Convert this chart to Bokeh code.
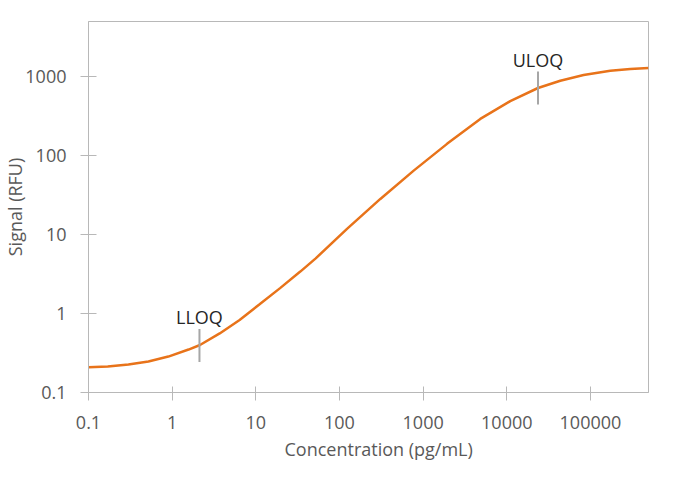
import numpy as np
from bokeh.plotting import figure
from bokeh.models import FixedTicker, ColumnDataSource, LabelSet, Title
from bokeh.core.properties import value
from bokeh.embed import file_html
from bokeh.resources import INLINE

# standard curve
conc = [0.1, 0.17, 0.3, 0.52, 0.9, 1.57, 2.15, 3.7, 6.4, 11, 19.5, 34, 52,
        123, 308, 771, 1930, 4820, 11000, 23600, 43600, 82800, 172600,
        299000, 494000]
signal = [0.209, 0.213, 0.226, 0.247, 0.285, 0.35, 0.40, 0.56, 0.83, 1.3,
          2.1, 3.4, 5.0, 11.8, 28.3, 64.6, 141, 292, 490, 719, 889, 1051,
          1192, 1251, 1288]

# limits of quantification
loq_names = ["LLOQ", "ULOQ"]
loq_conc = [2.12, 23600]
loq_signal = [0.395, 719]

x_ticks = [0.1, 1, 10, 100, 1000, 10000, 100000]
x_tick_labels = ["0.1", "1", "10", "100", "1000", "10000", "100000"]
y_ticks = [0.1, 1, 10, 100, 1000]
y_tick_labels = ["0.1", "1", "10", "100", "1000"]

FONT = "Open Sans"
GREY = "#B8B8B8"
TXT = "#595959"

p = figure(
    frame_width=560, frame_height=371,
    x_axis_type="log", y_axis_type="log",
    x_range=(0.1, 494000), y_range=(0.1, 5000),
    y_axis_label="Signal (RFU)",
    output_backend="svg", toolbar_location=None,
    min_border_left=88, min_border_top=21, min_border_right=30, min_border_bottom=75,
)

p.xgrid.visible = False
p.ygrid.visible = False
p.outline_line_color = GREY
p.outline_line_width = 1

p.xaxis.ticker = FixedTicker(ticks=x_ticks)
p.yaxis.ticker = FixedTicker(ticks=y_ticks)
p.xaxis.major_label_overrides = dict(zip(x_ticks, x_tick_labels))
p.yaxis.major_label_overrides = dict(zip(y_ticks, y_tick_labels))

for ax in (p.xaxis, p.yaxis):
    ax.axis_line_color = GREY
    ax.major_tick_line_color = GREY
    ax.minor_tick_line_color = None
    ax.major_label_text_font = FONT
    ax.major_label_text_font_size = "18px"
    ax.major_label_text_color = TXT
    ax.axis_label_text_font = FONT
    ax.axis_label_text_font_size = "18px"
    ax.axis_label_text_font_style = "normal"
    ax.axis_label_text_color = TXT

p.xaxis.major_tick_in = 6
p.xaxis.major_tick_out = 8
p.yaxis.major_tick_in = 8
p.yaxis.major_tick_out = 8
p.xaxis.major_label_standoff = 15
p.yaxis.major_label_standoff = 14
p.yaxis.axis_label_standoff = -5

# x axis title sits right of the frame centre in the original
p.add_layout(Title(text="Concentration (pg/mL)", align="left", offset=196,
                   text_font=FONT, text_font_size="18px", text_font_style="normal",
                   text_color=TXT, standoff=7), "below")

p.line(conc, signal, line_color="#E8731A", line_width=2.5)

src = ColumnDataSource(data=dict(name=loq_names, x=loq_conc, y=loq_signal))
p.scatter("x", "y", source=src, marker="dash", size=33, angle=np.pi / 2,
          line_color="#A6A6A6", line_width=2)
labels = LabelSet(x="x", y="y", text="name", source=src, text_align="center",
                  text_baseline="alphabetic", y_offset=21, text_font=value(FONT),
                  text_font_size="18px", text_color="#262626")
p.add_layout(labels)

open("out.html", "w").write(file_html(p, INLINE))
